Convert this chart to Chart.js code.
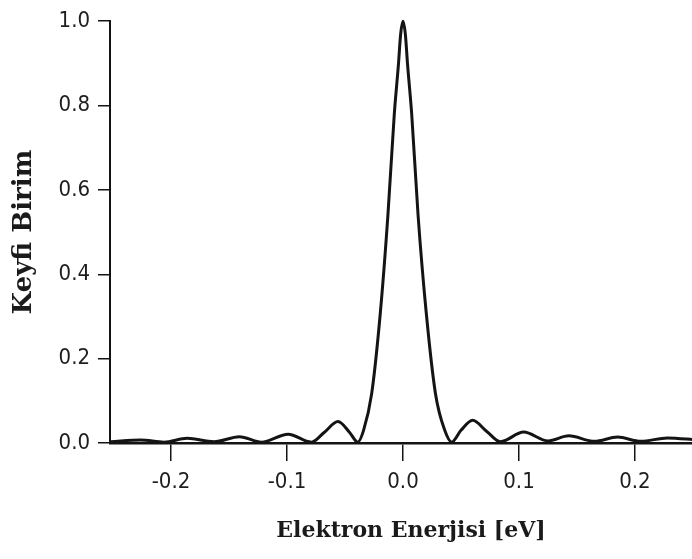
<!DOCTYPE html>
<html>
<head>
<meta charset="utf-8">
<script src="https://cdn.jsdelivr.net/npm/chart.js@4"></script>
<style>
  html, body { margin: 0; padding: 0; background: #fff; overflow: hidden; }
  canvas { display: block; }
</style>
</head>
<body>
<!-- the plot runs on past the right edge of the page -->
<canvas id="spectrum" width="712" height="559"></canvas>
<script>
// energy offset in eV and relative intensity
const energy = [
  -0.252, -0.226, -0.206, -0.186, -0.163, -0.141, -0.122, -0.099, -0.079,
  -0.068, -0.056, -0.046, -0.039, -0.034, -0.027, -0.0195, -0.013, -0.0075,
  -0.004, -0.002, 0, 0.002, 0.004, 0.0075, 0.013, 0.020, 0.028, 0.036, 0.042, 0.050,
  0.060, 0.072, 0.084, 0.104, 0.125, 0.143, 0.165, 0.185, 0.205, 0.228, 0.250, 0.262
];
const intensity = [
  0.003, 0.007, 0.002, 0.011, 0.003, 0.015, 0.002, 0.021, 0.002,
  0.025, 0.051, 0.025, 0.002, 0.030, 0.117, 0.310, 0.540, 0.780,
  0.895, 0.970, 1.000, 0.970, 0.895, 0.780, 0.540, 0.310, 0.117, 0.030, 0.002, 0.030,
  0.054, 0.028, 0.003, 0.026, 0.005, 0.017, 0.004, 0.014, 0.004, 0.012, 0.008, 0.005
];
const xTicks = [-0.2, -0.1, 0.0, 0.1, 0.2];
const yTicks = [0.0, 0.2, 0.4, 0.6, 0.8, 1.0];

const ink = '#141414';
const tickFont = { family: '"Liberation Sans Narrow", "DejaVu Sans Condensed", "Liberation Sans", sans-serif', size: 22 };
const titleFamily = '"DejaVu Serif", "Liberation Serif", serif';

const ctx = document.getElementById('spectrum').getContext('2d');
const chart = new Chart(ctx, {
    type: 'line',
    data: {
        datasets: [{
            data: energy.map((e, i) => ({ x: e, y: intensity[i] })),
            borderColor: ink,
            borderWidth: 3,
            pointRadius: 0,
            fill: false,
            cubicInterpolationMode: 'monotone',
            clip: false
        }]
    },
    options: {
        responsive: false,
        animation: false,
        layout: { padding: { top: 15, right: 0, left: 0, bottom: 0 } },
        plugins: { legend: { display: false }, tooltip: { enabled: false } },
        scales: {
            x: {
                type: 'linear',
                min: -0.2526,
                max: 0.2664,
                afterBuildTicks: s => { s.ticks = xTicks.map(v => ({ value: v })); },
                afterFit: s => { s.height = 116; },
                grid: { drawOnChartArea: false, drawTicks: true, tickLength: 18, color: ink, lineWidth: 1.5 },
                border: { display: true, color: ink, width: 2.5 },
                ticks: {
                    color: '#1e1e1e', font: tickFont, padding: 8, maxRotation: 0,
                    callback: v => v.toFixed(1)
                },
                title: {
                    display: true,
                    text: 'Elektron Enerjisi [eV]',
                    color: '#1a1a1a',
                    font: { family: titleFamily, size: 22, weight: 'bold' },
                    padding: { top: 0, bottom: 15 }
                }
            },
            y: {
                min: 0,
                max: 1,
                afterBuildTicks: s => { s.ticks = yTicks.map(v => ({ value: v })); },
                afterFit: s => { s.width = 110; },
                grid: { drawOnChartArea: false, drawTicks: true, tickLength: 12, color: ink, lineWidth: 1.5 },
                border: { display: true, color: ink, width: 2 },
                ticks: {
                    color: '#1e1e1e', font: tickFont, padding: 8,
                    callback: v => v.toFixed(1)
                },
                title: {
                    display: true,
                    text: 'Keyfi Birim',
                    color: '#1a1a1a',
                    font: { family: titleFamily, size: 26, weight: 'bold' },
                    padding: { top: 9, bottom: 0 }
                }
            }
        }
    }
});
</script>
</body>
</html>
